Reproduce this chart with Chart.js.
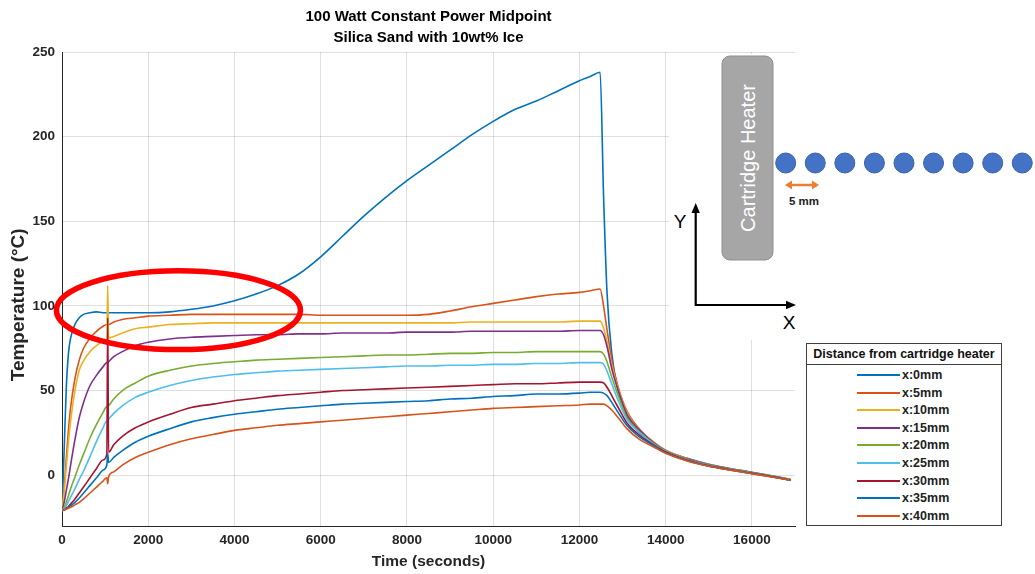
<!DOCTYPE html>
<html>
<head>
<meta charset="utf-8">
<script src="https://cdn.jsdelivr.net/npm/chart.js@4.4.0/dist/chart.umd.min.js"></script>
<style>
  body { margin: 0; background: #fff; }
  #wrap { position: relative; width: 1035px; height: 574px; overflow: hidden; background: #fff;
          font-family: "Liberation Sans", Arial, sans-serif; }
  #chart { position: absolute; left: 0; top: 0; }
  #inset { position: absolute; left: 669px; top: 54px; }
  #legend { position: absolute; left: 806px; top: 343px; width: 194px; height: 181px;
            border: 1px solid #404040; background: #fff; }
  #legend .head { height: 20px; line-height: 20px; border-bottom: 1px solid #404040; text-align: center;
                  font-weight: bold; font-size: 12.5px; color: #111; }
  #legend .row { position: absolute; left: 50px; height: 17.6px; display: flex; align-items: center;
                 font-weight: bold; font-size: 12.5px; color: #222; }
  #legend .sw { width: 43px; height: 2px; margin-right: 2px; }
</style>
</head>
<body>
<div id="wrap">
  <canvas id="chart" width="800" height="574"></canvas>

  <svg id="inset" width="366" height="286" viewBox="0 0 366 286">
    <rect x="0" y="0" width="366" height="286" fill="#fff"/>
    <rect x="53" y="2" width="51" height="204" rx="8" fill="#a6a6a6" stroke="#8f8f8f" stroke-width="1"/>
    <text x="79" y="104" transform="rotate(-90 79 104)" text-anchor="middle" dominant-baseline="central"
          fill="#fff" font-size="20" font-family="Liberation Sans, Arial, sans-serif">Cartridge Heater</text>
    <g id="dots" fill="#4472c4" stroke="#3a63ad" stroke-width="1"></g>
    <line x1="121" y1="131" x2="145" y2="131" stroke="#ed7d31" stroke-width="2.5"/>
    <polygon points="116,131 123,126.5 123,135.5" fill="#ed7d31"/>
    <polygon points="150,131 143,126.5 143,135.5" fill="#ed7d31"/>
    <text x="135" y="147" text-anchor="middle" dominant-baseline="central" font-size="11.5" font-weight="bold"
          fill="#222" font-family="Liberation Sans, Arial, sans-serif">5 mm</text>
    <polyline points="26.7,158 26.7,251 118,251" fill="none" stroke="#000" stroke-width="2.2"/>
    <polygon points="26.7,149 22.5,159 30.9,159" fill="#000"/>
    <polygon points="127,251 117,246.8 117,255.2" fill="#000"/>
    <text x="11" y="167" text-anchor="middle" dominant-baseline="central" font-size="19"
          fill="#000" font-family="Liberation Sans, Arial, sans-serif">Y</text>
    <text x="120" y="268" text-anchor="middle" dominant-baseline="central" font-size="19"
          fill="#000" font-family="Liberation Sans, Arial, sans-serif">X</text>
  </svg>

  <div id="legend"><div class="head">Distance from cartridge heater</div></div>
</div>

<script>
// time axis (seconds), shared by all probes
const timeSec = [0, 50, 100, 150, 200, 300, 400, 500, 650, 800,
  950, 1040, 1060, 1080, 1200, 1400, 1700, 2000, 2500, 3000,
  3500, 4000, 4500, 5000, 5500, 6000, 6500, 7000, 7500, 8000,
  8500, 9000, 9500, 10000, 10500, 11000, 11500, 12000, 12250, 12480,
  12560, 12640, 12750, 12900, 13100, 13400, 13700, 14000, 14500, 15000,
  15500, 16000, 16500, 16900];

// temperatures (deg C)
const x0mm = [-21, 15, 52, 72, 81, 89, 93, 95, 96, 96.5,
  96, 96, 96, 96, 96, 96, 96, 96, 96.5, 98,
  100, 103, 107, 112, 119, 129, 141, 153, 164, 174,
  183, 192, 201, 209, 216, 221, 227, 233, 235.5, 238,
  165, 108, 72, 50, 35, 25, 19, 14.5, 10, 6.5,
  4, 1.8, -0.5, -2.5];
const x5mm = [-21, -8, 10, 27, 40, 57, 68, 75, 81, 85,
  88, 89, 89, 89, 90.5, 92, 93, 94, 94.5, 95,
  95, 95, 95, 95, 95, 94.5, 94.5, 94.5, 94.5, 94.5,
  95, 97, 99.5, 101.5, 103.5, 105.5, 107, 108, 109, 110,
  100, 86, 68, 52, 38, 27, 20, 14.8, 9.8, 6.3,
  3.8, 1.6, -0.6, -2.5];
const x10mm = [-21, -10, 5, 20, 32, 50, 62, 67.5, 73, 76.5,
  79, 80, 112, 81, 82, 84, 86.5, 87.5, 89, 89.5,
  90, 90, 90, 90, 90, 90, 90, 90, 90, 90,
  90, 90, 90.5, 90.5, 90.5, 90.5, 90.5, 91, 91, 91,
  87, 79, 65, 51, 37, 26.5, 20, 14.6, 9.6, 6.1,
  3.6, 1.5, -0.7, -2.6];
const x15mm = [-21, -16, -9, -2, 6, 21, 34, 43, 53, 59,
  64, 66.5, 66.5, 67, 70, 73, 76.5, 78.5, 80.5, 81.5,
  82, 82.5, 83, 83, 83.5, 83.5, 84, 84, 84, 84.5,
  84.5, 84.5, 85, 85, 85, 85, 85, 85.5, 85.5, 85.5,
  83, 76, 63, 50, 36, 26.5, 19.5, 14.4, 9.4, 6,
  3.5, 1.4, -0.8, -2.7];
const x20mm = [-21, -19, -16, -12, -8, -1, 6, 12.5, 22, 30,
  37, 40.5, 40.5, 41, 45, 50, 54.5, 58.5, 62, 64.5,
  66, 67, 68, 68.5, 69, 69.5, 70, 70.5, 71, 71,
  71.5, 72, 72, 72.5, 72.5, 73, 73, 73, 73, 73,
  71.5, 67, 58, 47, 34, 25.5, 19, 14.2, 9.2, 5.8,
  3.4, 1.3, -0.9, -2.8];
const x25mm = [-21, -20, -18, -15.5, -13, -8, -2.5, 2.5, 11, 20,
  28, 32, 32, 33, 36.5, 41, 46, 49, 53, 56,
  58, 59.5, 60.5, 61.5, 62, 62.5, 63, 63.5, 64, 64.5,
  64.5, 65, 65, 65.5, 65.5, 66, 66, 66.5, 66.5, 66.5,
  65.5, 61.5, 54, 44, 33, 25, 18.8, 14, 9, 5.7,
  3.3, 1.2, -1, -2.8];
const x30mm = [-21, -20.5, -19.5, -18.5, -17, -14, -10.5, -7, -1.5, 4,
  9, 12.5, 93, 13.5, 18, 23, 28, 31.5, 36, 40,
  42, 44, 45.5, 47, 48, 49, 50, 50.5, 51, 51.5,
  52, 52.5, 53, 53.5, 54, 54, 54.5, 55, 55, 55,
  54.5, 52, 47, 40, 31, 23.5, 18.2, 13.7, 8.8, 5.5,
  3.2, 1.1, -1, -2.9];
const x35mm = [-21, -20.5, -20, -19, -18, -16, -13.5, -10.5, -6, -1.5,
  3, 6, 13, 7.5, 10.5, 14.5, 19.5, 23, 27.5, 31.5,
  34, 36, 37.5, 39, 40, 41, 42, 42.5, 43, 43.5,
  44, 45, 45.5, 46.5, 47, 48, 48, 48.5, 49, 49,
  48.5, 47, 43, 37, 29.5, 22.5, 17.8, 13.3, 8.6, 5.4,
  3.1, 1, -1.1, -3];
const x40mm = [-21, -20.5, -20, -19.5, -19, -17.5, -16, -14, -10.5, -7,
  -3.5, -1.5, -5, -1, 2, 6, 10.5, 13.5, 18, 21.5,
  24, 26.5, 28, 29.5, 30.5, 31.5, 32.5, 33.5, 34.5, 35.5,
  36.5, 37.5, 38.5, 39.5, 40, 40.5, 41, 41.5, 42, 42,
  42, 41, 38.5, 34, 27.5, 21, 17, 13, 8.4, 5.3,
  3, 0.9, -1.2, -3];

const seriesLabels = ["x:0mm", "x:5mm", "x:10mm", "x:15mm", "x:20mm", "x:25mm", "x:30mm", "x:35mm", "x:40mm"];
const seriesValues = [x0mm, x5mm, x10mm, x15mm, x20mm, x25mm, x30mm, x35mm, x40mm];
const seriesColors = ["#0072bd", "#d95319", "#edb120", "#7e2f8e", "#77ac30", "#4dbeee", "#a2142f", "#0072bd", "#d95319"];

const xTickValues = [0, 2000, 4000, 6000, 8000, 10000, 12000, 14000, 16000];
const yTickValues = [0, 50, 100, 150, 200, 250];

// red ring drawn around the plateau (data units)
const ringCenter = { t: 2700, temp: 97.5 };
const ringRadius = { t: 2830, temp: 23.3 };

const FONT = '"Liberation Sans", Arial, sans-serif';
const gridColor = "rgba(0,0,0,0.12)";

// sensor dots in the inset
const dots = document.getElementById("dots");
for (let i = 0; i < 9; i++) {
  const c = document.createElementNS("http://www.w3.org/2000/svg", "circle");
  c.setAttribute("cx", 116.7 + i * 29.57);
  c.setAttribute("cy", 109);
  c.setAttribute("r", 10);
  dots.appendChild(c);
}

// legend
const legend = document.getElementById("legend");
seriesLabels.forEach(function (lab, i) {
  const row = document.createElement("div");
  row.className = "row";
  row.style.top = (22.2 + i * 17.6) + "px";
  row.innerHTML = '<span class="sw" style="background:' + seriesColors[i] + '"></span>' + lab;
  legend.appendChild(row);
});

const ringPlugin = {
  id: "ring",
  afterDraw(chart) {
    const { ctx, scales: { x, y } } = chart;
    const cx = x.getPixelForValue(ringCenter.t);
    const cy = y.getPixelForValue(ringCenter.temp);
    const rx = x.getPixelForValue(ringCenter.t + ringRadius.t) - cx;
    const ry = cy - y.getPixelForValue(ringCenter.temp + ringRadius.temp);
    ctx.save();
    ctx.beginPath();
    ctx.ellipse(cx, cy, rx, ry, 0, 0, Math.PI * 2);
    ctx.lineWidth = 5.5;
    ctx.strokeStyle = "#ff0000";
    ctx.stroke();
    ctx.restore();
  }
};

const ctx = document.getElementById("chart").getContext("2d");
new Chart(ctx, {
  type: "line",
  data: {
    datasets: seriesLabels.map(function (lab, i) {
      return {
        label: lab,
        data: timeSec.map((t, j) => ({ x: t, y: seriesValues[i][j] })),
        borderColor: seriesColors[i],
        borderWidth: 1.6,
        pointRadius: 0,
        fill: false,
        cubicInterpolationMode: "monotone",
        order: seriesLabels.length - i
      };
    })
  },
  options: {
    responsive: false,
    animation: false,
    devicePixelRatio: 1,
    layout: { padding: { left: 0, right: 5, top: 0, bottom: 0 } },
    plugins: {
      legend: { display: false },
      tooltip: { enabled: false },
      title: {
        display: true,
        fullSize: false,
        text: ["100 Watt Constant Power Midpoint", "Silica Sand with 10wt% Ice"],
        color: "#000",
        font: { family: FONT, size: 15, weight: "bold", lineHeight: 1.4 },
        padding: { top: 6.5, bottom: 3.5 }
      }
    },
    scales: {
      x: {
        type: "linear",
        min: 0,
        max: 17000,
        afterBuildTicks: s => { s.ticks = xTickValues.map(v => ({ value: v })); },
        afterFit: s => { s.height = 48; },
        ticks: { color: "#262626", padding: 6, maxRotation: 0,
                 callback: v => String(v),
                 font: { family: FONT, size: 13.5, weight: "bold" } },
        grid: { color: gridColor, drawTicks: false },
        border: { color: "#262626", width: 1 },
        title: { display: true, text: "Time (seconds)", color: "#262626",
                 font: { family: FONT, size: 15.5, weight: "bold" }, padding: { top: 0, bottom: 2.7 } }
      },
      y: {
        type: "linear",
        min: -30,
        max: 250,
        afterBuildTicks: s => { s.ticks = yTickValues.map(v => ({ value: v })); },
        afterFit: s => { s.width = 62; },
        ticks: { color: "#262626", padding: 7,
                 callback: v => String(v),
                 font: { family: FONT, size: 13.5, weight: "bold" } },
        grid: { color: gridColor, drawTicks: false },
        border: { color: "#262626", width: 1 },
        title: { display: true, text: "Temperature (°C)      ", color: "#262626",
                 font: { family: FONT, size: 19, weight: "bold" }, padding: { top: 7, bottom: 0 } }
      }
    }
  },
  plugins: [ringPlugin]
});
</script>
</body>
</html>
